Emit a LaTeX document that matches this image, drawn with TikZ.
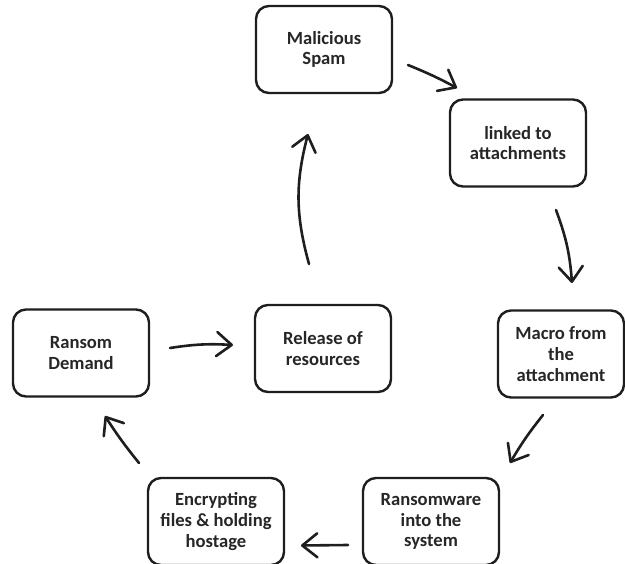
\documentclass[tikz,border=0pt]{standalone}
\usepackage{fontspec}
\setmainfont{Carlito}
\usetikzlibrary{arrows.meta}
\definecolor{ink}{HTML}{1E1E1E}
\definecolor{label}{HTML}{262626}
\tikzset{
  stage/.style={draw=ink, line width=2.4pt, rounded corners=13pt,
    minimum width=136pt, minimum height=87pt, align=center,
    text=label, font=\bfseries\fontsize{18.6}{20.8}\selectfont, inner sep=2pt},
  flow/.style={draw=ink, line width=2.6pt, line cap=round, line join=round,
    -{Straight Barb[length=15pt,width=24pt,line cap=round,line join=round]}}
}
\begin{document}
\begin{tikzpicture}[x=1pt,y=-1pt]
  \useasboundingbox (0,0) rectangle (625,564);
  \begin{scope}
  \clip (0,0) rectangle (625,564);
  % the seven stages of the cycle
  \node[stage] (spam)    at (324,49.5)  {Malicious\\Spam};
  \node[stage] (linked)  at (518,143)   {linked to\\attachments};
  \node[stage, minimum width=126pt] (macro) at (561,354) {Macro from\\the\\attachment};
  \node[stage] (ware)    at (431,521.5) {Ransomware\\into the\\system};
  \node[stage] (encrypt) at (216,521.5) {Encrypting\\files \& holding\\hostage};
  \node[stage] (demand)  at (81,353)    {Ransom\\Demand};
  \node[stage] (release) at (323,348.5) {Release of\\resources};
  \end{scope}
  % arrow ends between the stages
  \coordinate (s1) at (408,65);  \coordinate (e1) at (457,88);
  \coordinate (s2) at (556,210); \coordinate (e2) at (572,283);
  \coordinate (s3) at (543,415); \coordinate (e3) at (510,463);
  \coordinate (s4) at (348,545); \coordinate (e4) at (301,545.5);
  \coordinate (s5) at (139,463); \coordinate (e5) at (105,416);
  \coordinate (s6) at (170,348); \coordinate (e6) at (233,345);
  \coordinate (s7) at (309,264); \coordinate (e7) at (308,134);
  \draw[flow] (s1) to[bend left=3] (e1);
  \draw[flow] (s2) to[bend left=8] (e2);
  \draw[flow] (s3) to[bend right=4] (e3);
  \draw[flow] (s4) -- (e4);
  \draw[flow] (s5) to[bend left=3] (e5);
  \draw[flow] (s6) to[bend left=6] (e6);
  \draw[flow] (s7) to[bend left=15] (e7);
\end{tikzpicture}
\end{document}
